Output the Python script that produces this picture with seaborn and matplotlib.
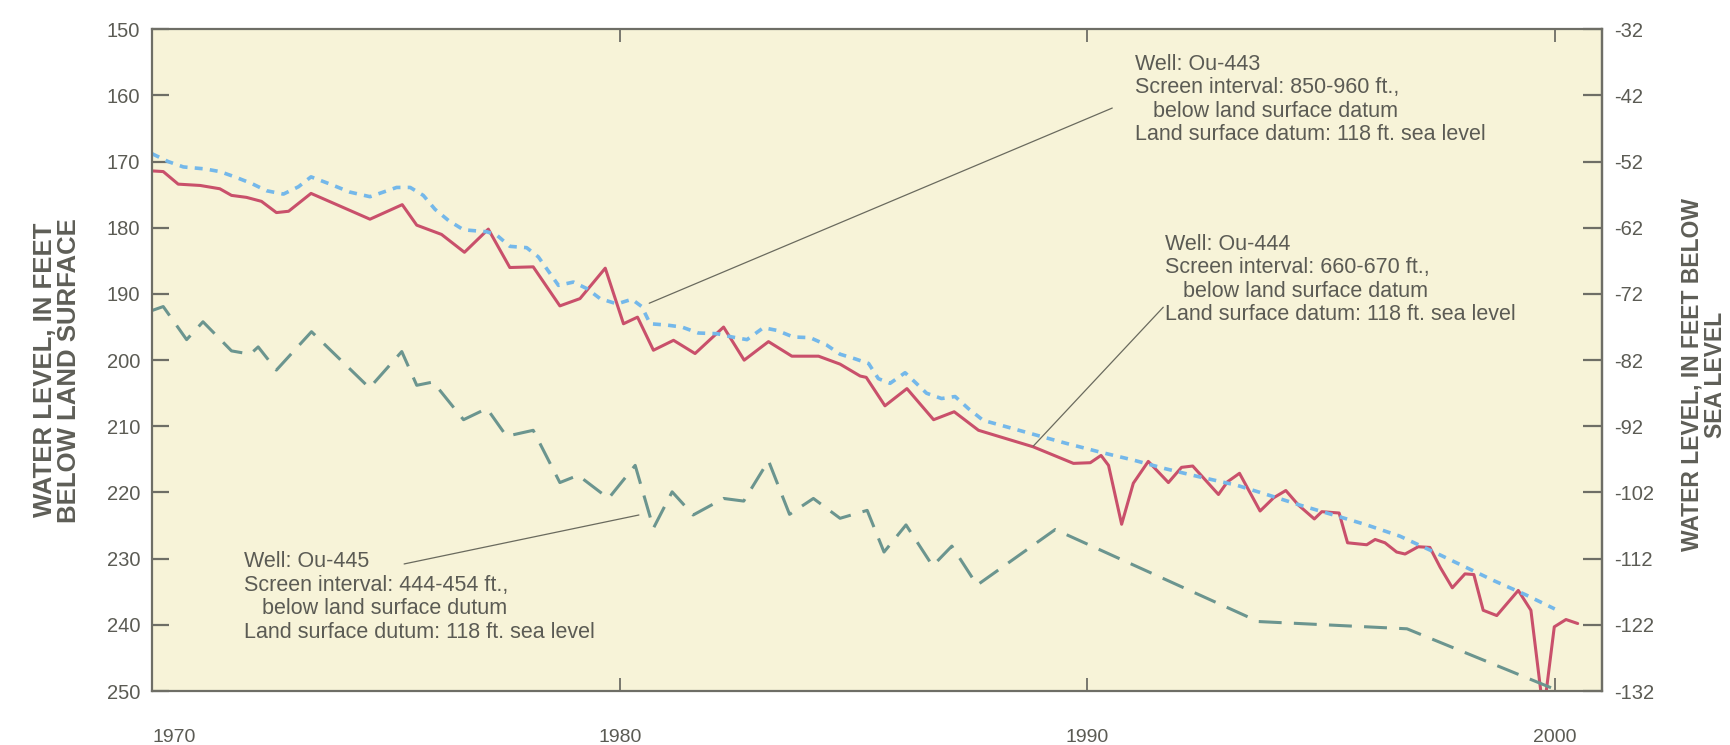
import numpy as np
import pandas as pd
import matplotlib
matplotlib.use('Agg')
from matplotlib import pyplot as plt
import seaborn as sns

# Ou-444 (solid red)
ou444_year = [1970.00, 1970.24, 1970.56, 1971.03, 1971.45, 1971.70, 1972.02, 1972.34, 1972.66, 1972.92,
              1973.40, 1974.66, 1975.35, 1975.66, 1976.19, 1976.68, 1977.19, 1977.65, 1978.15, 1978.72,
              1979.15, 1979.69, 1980.08, 1980.38, 1980.72, 1981.15, 1981.61, 1982.22, 1982.66, 1983.18,
              1983.68, 1984.25, 1984.71, 1985.14, 1985.27, 1985.67, 1986.14, 1986.71, 1987.15, 1987.67,
              1988.84, 1989.70, 1990.06, 1990.29, 1990.45, 1990.73, 1990.98, 1991.30, 1991.73, 1992.01,
              1992.25, 1992.80, 1992.99, 1993.25, 1993.69, 1993.98, 1994.24, 1994.51, 1994.85, 1995.01,
              1995.38, 1995.56, 1995.97, 1996.15, 1996.36, 1996.61, 1996.79, 1997.07, 1997.32, 1997.54,
              1997.80, 1998.07, 1998.26, 1998.46, 1998.75, 1999.21, 1999.48, 1999.70, 1999.80, 1999.98,
              2000.23, 2000.48]
ou444_level = [171.4, 171.5, 173.4, 173.6, 174.1, 175.1, 175.4, 176.0, 177.7, 177.5,
               174.8, 178.7, 176.5, 179.6, 181.0, 183.7, 180.2, 186.0, 185.9, 191.8,
               190.7, 186.1, 194.5, 193.5, 198.5, 197.0, 199.0, 195.0, 200.0, 197.2,
               199.4, 199.4, 200.6, 202.4, 202.6, 206.9, 204.3, 209.0, 207.8, 210.6,
               213.1, 215.6, 215.5, 214.4, 215.9, 224.8, 218.6, 215.3, 218.5, 216.2,
               216.0, 220.3, 218.4, 217.1, 222.8, 220.8, 219.7, 221.9, 224.0, 222.9,
               223.1, 227.6, 227.9, 227.1, 227.6, 229.0, 229.3, 228.2, 228.3, 231.3,
               234.4, 232.3, 232.4, 237.8, 238.6, 234.8, 237.8, 250.5, 250.5, 240.3,
               239.2, 239.8]

# Ou-443 (dotted blue)
ou443_year = [1970.00, 1970.35, 1970.67, 1971.13, 1971.45, 1971.77, 1972.13, 1972.45, 1972.81, 1973.13,
              1973.40, 1973.81, 1974.23, 1974.66, 1975.23, 1975.52, 1975.80, 1976.05, 1976.34, 1976.66,
              1977.16, 1977.37, 1977.65, 1978.01, 1978.26, 1978.69, 1979.01, 1979.30, 1979.58, 1979.94,
              1980.26, 1980.47, 1980.65, 1981.01, 1981.33, 1981.68, 1982.08, 1982.40, 1982.72, 1983.07,
              1983.36, 1983.71, 1984.07, 1984.42, 1984.71, 1985.03, 1985.32, 1985.53, 1985.78, 1986.10,
              1986.31, 1986.56, 1986.88, 1987.17, 1987.45, 1987.77, 1988.13, 1988.84, 1989.56, 1990.27,
              1990.98, 1991.66, 1992.37, 1993.19, 1993.83, 1994.54, 1995.26, 1995.97, 1996.68, 1997.32,
              1998.00, 1998.68, 1999.35, 1999.99]
ou443_level = [168.8, 170.0, 170.8, 171.1, 171.5, 172.3, 173.3, 174.4, 174.9, 173.8,
               172.3, 173.4, 174.6, 175.3, 173.9, 173.9, 175.1, 177.2, 178.9, 180.3,
               180.6, 181.1, 182.8, 183.0, 184.4, 188.7, 188.2, 189.2, 190.7, 191.5,
               190.8, 191.9, 194.5, 194.7, 195.0, 195.9, 196.0, 196.5, 196.9, 195.1,
               195.5, 196.5, 196.6, 197.7, 199.1, 199.8, 200.5, 202.8, 203.5, 201.9,
               203.3, 205.0, 205.8, 205.5, 207.3, 209.1, 209.8, 211.2, 212.6, 213.9,
               215.1, 216.4, 217.6, 218.9, 220.3, 221.9, 223.4, 224.9, 226.6, 228.7,
               231.0, 233.3, 235.4, 237.6]

# Ou-445 (long dashes)
ou445_year = [1970.00, 1970.24, 1970.74, 1971.09, 1971.70, 1972.10, 1972.27, 1972.66, 1973.41, 1974.65,
              1975.34, 1975.66, 1976.01, 1976.66, 1977.16, 1977.58, 1978.15, 1978.72, 1979.11, 1979.76,
              1980.33, 1980.72, 1981.12, 1981.57, 1982.22, 1982.65, 1983.18, 1983.63, 1984.14, 1984.71,
              1985.29, 1985.65, 1986.12, 1986.69, 1987.10, 1987.64, 1989.31, 1993.65, 1996.83, 2000.15]
ou445_level = [192.5, 191.9, 196.9, 194.2, 198.6, 199.1, 198.0, 201.5, 195.7, 204.2,
               198.7, 203.8, 203.3, 209.0, 207.3, 211.5, 210.6, 218.5, 217.4, 220.9,
               215.9, 225.4, 219.9, 223.4, 220.9, 221.3, 215.2, 223.3, 220.9, 223.9,
               222.7, 229.0, 224.9, 231.1, 228.1, 234.0, 225.6, 239.5, 240.6, 250.2]

year_ticks = [1970, 1980, 1990, 2000]
depth_ticks = list(range(150, 251, 10))
land_datum = 118
sea_ticks = [land_datum - d for d in depth_ticks]

label_443 = ('Well: Ou-443\nScreen interval: 850-960 ft.,\n   below land surface datum\n'
             'Land surface datum: 118 ft. sea level')
label_444 = ('Well: Ou-444\nScreen interval: 660-670 ft.,\n   below land surface datum\n'
             'Land surface datum: 118 ft. sea level')
label_445 = ('Well: Ou-445\nScreen interval: 444-454 ft.,\n   below land surface dutum\n'
             'Land surface dutum: 118 ft. sea level')

sns.set_style('white')
plt.rcParams['font.family'] = ['Liberation Sans', 'DejaVu Sans']
plt.rcParams['axes.unicode_minus'] = False

spine_col = '#6e6e66'
text_col = '#5b5b54'
label_col = '#5e5e57'
fill_col = '#f7f3d8'

fig = plt.figure(figsize=(17.3, 7.45), dpi=100)
ax = fig.add_axes([152/1730, 54/745, 1450/1730, 661.7/745])
ax.set_facecolor(fill_col)

sns.lineplot(x=ou444_year, y=ou444_level, ax=ax, color='#c9506b', linewidth=2.2,
             estimator=None, sort=False)
sns.lineplot(x=ou443_year, y=ou443_level, ax=ax, color='#74b8ea', linewidth=2.6,
             estimator=None, sort=False, linestyle=(0, (2.2, 2.0)))
sns.lineplot(x=ou445_year, y=ou445_level, ax=ax, color='#6b958f', linewidth=2.2,
             estimator=None, sort=False, linestyle=(0, (7.5, 4)))

ax.set_xlim(1970, 2001)
ax.set_ylim(250, 150)

for s in ax.spines.values():
    s.set_color(spine_col)
    s.set_linewidth(1.6)
    s.set_visible(True)

ax.set_yticks(depth_ticks)
ax.tick_params(axis='y', direction='in', length=12, width=1.6, color=spine_col,
               labelsize=14.5, labelcolor=text_col, pad=8.6, left=True)
ax.set_xticks(year_ticks)
ax.set_xticklabels([str(y) for y in year_ticks])
ax.tick_params(axis='x', direction='in', length=9.4, width=1.3, color=spine_col,
               labelsize=14, labelcolor=text_col, pad=27.5, top=True, bottom=True)
ax.xaxis.get_major_ticks()[0].label1.set_horizontalalignment('left')

sec = ax.secondary_yaxis('right', functions=(lambda d: land_datum - d, lambda e: land_datum - e))
sec.set_yticks(sea_ticks)
sec.set_yticklabels([str(v) for v in sea_ticks])
sec.tick_params(direction='in', length=13.7, width=1.6, color=spine_col,
                labelsize=14.5, labelcolor=text_col, pad=8.6)
sec.spines['right'].set_color(spine_col)
sec.spines['right'].set_linewidth(1.6)

ax.set_ylabel('WATER LEVEL, IN FEET\nBELOW LAND SURFACE', fontsize=18.5, fontweight='bold',
              color=label_col, va='center', linespacing=1.0)
ax.yaxis.set_label_coords((57 - 152) / 1450, 0.485)
fig.text(1704 / 1730, 1 - 374.5 / 745, 'WATER LEVEL, IN FEET BELOW\nSEA LEVEL', fontsize=16.5,
         fontweight='bold', color=label_col, rotation=90, ha='center', va='center',
         multialignment='center', linespacing=1.0)

txt_kw = dict(fontsize=15.5, color=text_col, ha='left', va='top', linespacing=1.15)
ax.text(1991.02, 153.7, label_443, **txt_kw)
ax.text(1991.66, 180.9, label_444, **txt_kw)
ax.text(1971.97, 228.9, label_445, **txt_kw)

lead = dict(arrowstyle='-', color='#6a6a5e', lw=0.9, shrinkA=0, shrinkB=0)
ax.annotate('', xy=(1980.63, 191.4), xytext=(1990.53, 161.9), arrowprops=lead)
ax.annotate('', xy=(1988.84, 213.0), xytext=(1991.62, 192.0), arrowprops=lead)
ax.annotate('', xy=(1980.41, 223.4), xytext=(1975.39, 230.8), arrowprops=lead)

fig.savefig('out.png', dpi=100, facecolor='white')
